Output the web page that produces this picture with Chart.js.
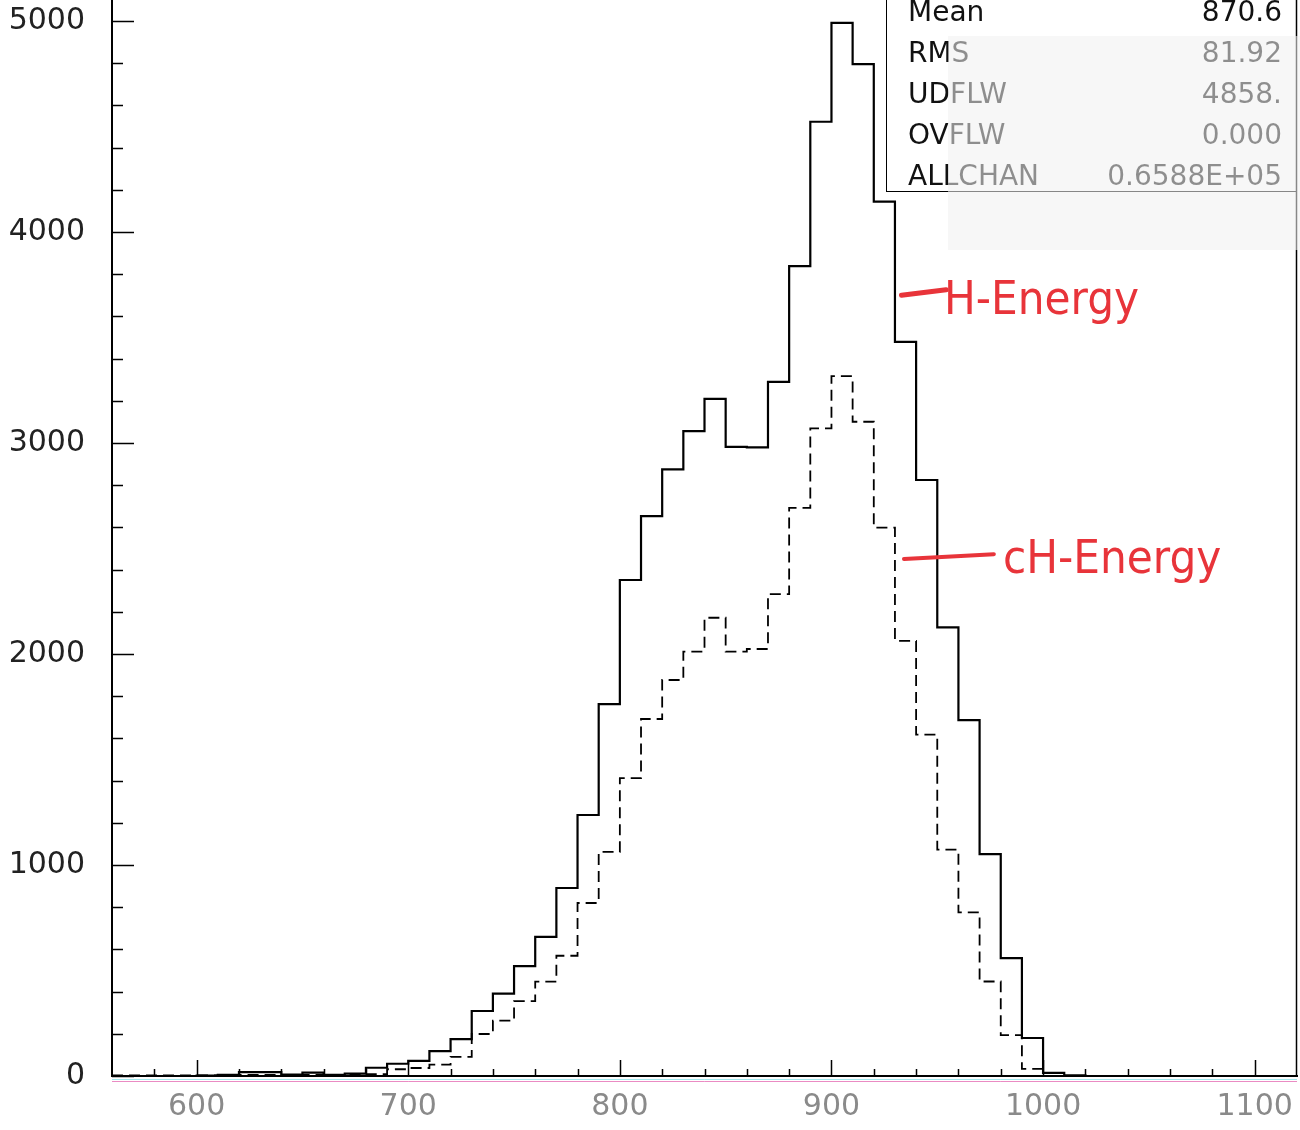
<!DOCTYPE html>
<html>
<head>
<meta charset="utf-8">
<title>H-Energy / cH-Energy</title>
<script src="https://cdn.jsdelivr.net/npm/chart.js@4.4.0/dist/chart.umd.min.js"></script>
<style>
  body { margin: 0; background: #fff; }
  #wrap { position: relative; width: 1300px; height: 1130px; overflow: hidden; }
  #histChart { position: absolute; left: 0; top: 0; }
  .stats {
    position: absolute; left: 886px; top: -3px; width: 411px; height: 195px;
    border: 1.5px solid #000; box-sizing: border-box;
  }
  .stat-row {
    position: absolute; left: 908px; width: 374px; height: 41px; line-height: 41px;
    font-family: "DejaVu Sans", sans-serif; font-size: 28px; color: #111;
  }
  .stat-row span { position: absolute; right: 0; top: 0; }
  .fade {
    position: absolute; left: 948px; top: 36px; width: 352px; height: 214px;
    background: rgba(241, 241, 241, 0.56);
  }
  .note {
    position: absolute; font-family: "DejaVu Sans Condensed", "DejaVu Sans", sans-serif;
    font-size: 47px; line-height: 1; color: #e8343a; white-space: nowrap;
  }
  .lead { position: absolute; background: #e8343a; border-radius: 3px; transform-origin: left center; }
</style>
</head>
<body>
<div id="wrap">
  <canvas id="histChart" width="1300" height="1130"></canvas>
  <div class="stats"></div>
  <div id="statRows"></div>
  <div class="fade"></div>
  <div class="lead" style="left:899px;top:293px;width:50px;height:5px;transform:rotate(-7deg)"></div>
  <div class="note" style="left:944px;top:274px">H-Energy</div>
  <div class="lead" style="left:902px;top:557px;width:94px;height:4px;transform:rotate(-3deg)"></div>
  <div class="note" style="left:1003px;top:533px">cH-Energy</div>
</div>
<script>
// ===== Histogram data (bins of 10, left edges) =====
const binEdges = [560, 570, 580, 590, 600, 610, 620, 630, 640, 650,
                  660, 670, 680, 690, 700, 710, 720, 730, 740, 750,
                  760, 770, 780, 790, 800, 810, 820, 830, 840, 850,
                  860, 870, 880, 890, 900, 910, 920, 930, 940, 950,
                  960, 970, 980, 990, 1000, 1010, 1020, 1030, 1040, 1050,
                  1060, 1070, 1080, 1090, 1100, 1110];

const hEnergy = [0, 0, 0, 0, 2, 5, 18, 18, 7, 16,
                 6, 11, 39, 58, 72, 118, 175, 308, 390, 521,
                 659, 891, 1237, 1763, 2351, 2654, 2875, 3057, 3209, 2982,
                 2980, 3290, 3839, 4523, 4992, 4796, 4144, 3480, 2825, 2126,
                 1687, 1052, 559, 180, 15, 3, 0, 0, 0, 0,
                 0, 0, 0, 0, 0, 0];

const cHEnergy = [3, 3, 3, 3, 3, 4, 5, 5, 5, 5,
                  5, 5, 9, 32, 38, 54, 91, 199, 262, 355,
                  447, 570, 820, 1062, 1412, 1692, 1877, 2011, 2172, 2011,
                  2024, 2284, 2693, 3070, 3317, 3101, 2599, 2062, 1618, 1073,
                  776, 448, 194, 34, 0, 0, 0, 0, 0, 0,
                  0, 0, 0, 0, 0, 0];

const xTickLabels = [600, 700, 800, 900, 1000, 1100];
const yTickLabels = [0, 1000, 2000, 3000, 4000, 5000];

const statLabels = ['Mean', 'RMS', 'UDFLW', 'OVFLW', 'ALLCHAN'];
const statValues = ['870.6', '81.92', '4858.', '0.000', '0.6588E+05'];

const xMin = 560, xMax = 1120, yMin = 0, yMax = 5100;

// ===== Stats box text =====
const statRows = document.getElementById('statRows');
statLabels.forEach((label, i) => {
  const row = document.createElement('div');
  row.className = 'stat-row';
  row.style.top = (-9 + i * 41) + 'px';
  row.textContent = label;
  const val = document.createElement('span');
  val.textContent = statValues[i];
  row.appendChild(val);
  statRows.appendChild(row);
});

// step outline: one point per left edge, plus the closing right edge
function steps(values) {
  const pts = binEdges.map((e, i) => ({ x: e, y: values[i] }));
  pts.push({ x: xMax, y: values[values.length - 1] });
  return pts;
}

// ===== Inward tick marks + frame =====
const frameTicks = {
  id: 'frameTicks',
  afterDraw(chart) {
    const { ctx, chartArea: a, scales: { x, y } } = chart;
    ctx.save();
    ctx.strokeStyle = '#000';
    ctx.lineWidth = 1.5;
    ctx.beginPath();
    for (let v = yMin; v <= yMax; v += 200) {
      const py = Math.round(y.getPixelForValue(v)) + 0.5;
      const len = v % 1000 === 0 ? 22 : 11;
      ctx.moveTo(a.left, py);
      ctx.lineTo(a.left + len, py);
    }
    for (let v = 580; v < xMax; v += 20) {
      const px = Math.round(x.getPixelForValue(v)) + 0.5;
      const len = v % 100 === 0 ? 16 : 7;
      ctx.moveTo(px, a.bottom);
      ctx.lineTo(px, a.bottom - len);
    }
    // right side of the frame
    ctx.moveTo(a.right - 0.5, a.top);
    ctx.lineTo(a.right - 0.5, a.bottom);
    ctx.stroke();

    // faint colour fringe under the x axis, as on the scan
    ctx.lineWidth = 1;
    ctx.strokeStyle = 'rgba(120, 220, 230, 0.7)';
    ctx.beginPath();
    ctx.moveTo(a.left, a.bottom + 3.5);
    ctx.lineTo(a.right, a.bottom + 3.5);
    ctx.stroke();
    ctx.strokeStyle = 'rgba(225, 90, 170, 0.7)';
    ctx.beginPath();
    ctx.moveTo(a.left, a.bottom + 5.5);
    ctx.lineTo(a.right, a.bottom + 5.5);
    ctx.stroke();
    ctx.restore();
  }
};

const ctx = document.getElementById('histChart');

new Chart(ctx, {
  type: 'line',
  data: {
    datasets: [
      {
        label: 'H-Energy',
        data: steps(hEnergy),
        stepped: 'before',
        borderColor: '#000',
        borderWidth: 2.2,
        pointRadius: 0,
        fill: false
      },
      {
        label: 'cH-Energy',
        data: steps(cHEnergy),
        stepped: 'before',
        borderColor: '#000',
        borderWidth: 1.8,
        borderDash: [11, 6],
        pointRadius: 0,
        fill: false
      }
    ]
  },
  options: {
    responsive: false,
    animation: false,
    devicePixelRatio: 1,
    layout: { padding: { left: 0, right: 3, top: 0, bottom: 0 } },
    plugins: {
      legend: { display: false },
      tooltip: { enabled: false }
    },
    scales: {
      x: {
        type: 'linear',
        min: xMin,
        max: xMax,
        grid: { display: false, drawTicks: false },
        border: { display: true, color: '#000', width: 2 },
        afterBuildTicks: s => { s.ticks = xTickLabels.map(v => ({ value: v })); },
        afterFit: s => { s.height = 54; s.paddingLeft = 0; s.paddingRight = 0; },
        ticks: {
          color: '#8a8a8a',
          padding: 13,
          maxRotation: 0,
          callback: v => String(v),
          font: { family: 'DejaVu Sans', size: 30 }
        }
      },
      y: {
        type: 'linear',
        min: yMin,
        max: yMax,
        grid: { display: false, drawTicks: false },
        border: { display: true, color: '#000', width: 2 },
        afterBuildTicks: s => { s.ticks = yTickLabels.map(v => ({ value: v })); },
        afterFit: s => { s.width = 112; s.paddingTop = 0; s.paddingBottom = 0; },
        ticks: {
          color: '#222',
          padding: 27,
          callback: v => String(v),
          font: { family: 'DejaVu Sans', size: 30 }
        }
      }
    }
  },
  plugins: [frameTicks]
});
</script>
</body>
</html>
